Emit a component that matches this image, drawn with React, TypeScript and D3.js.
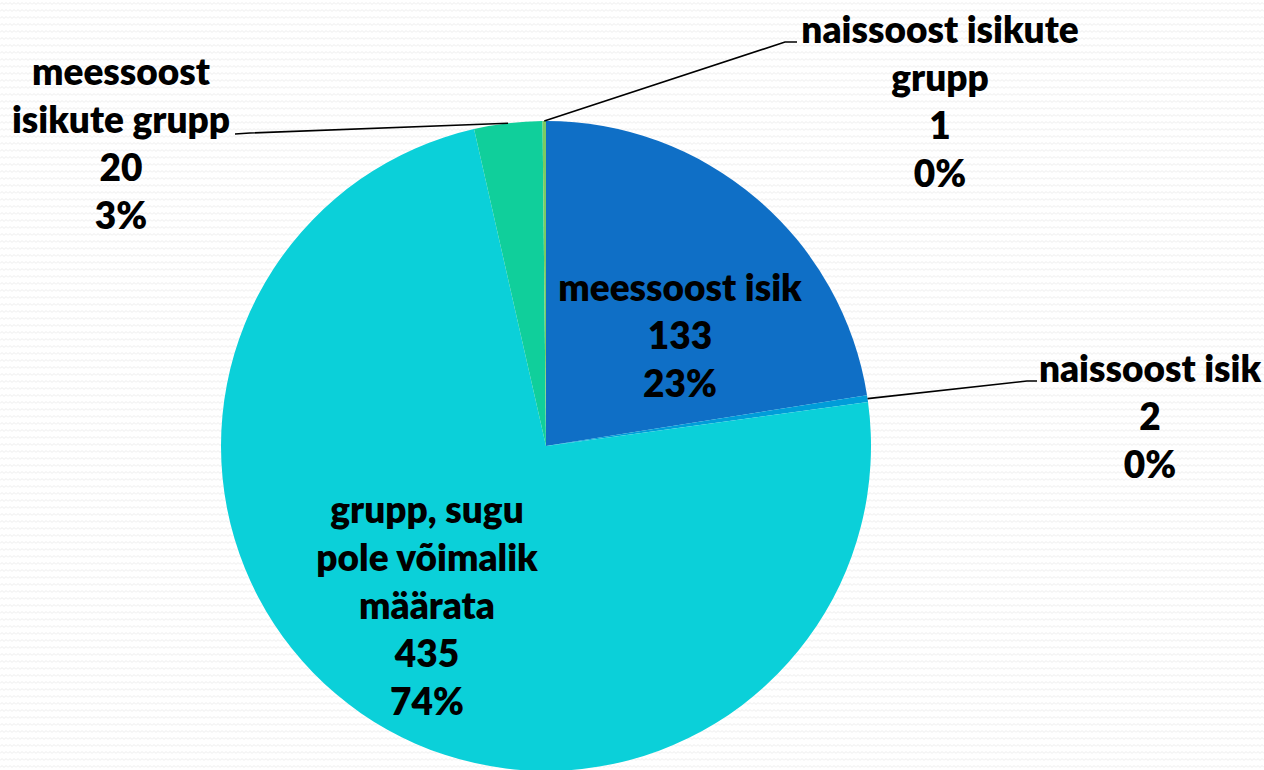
import React from "react";
import * as d3 from "d3";

const categories = [
  "meessoost isik",
  "naissoost isik",
  "grupp, sugu pole võimalik määrata",
  "meessoost isikute grupp",
  "naissoost isikute grupp",
];
const values = [133, 2, 435, 20, 1];
const colors = ["#0F6FC6", "#009DD9", "#0BD0D9", "#10CF9B", "#7CCA62"];
const labelLines = [
  ["meessoost isik"],
  ["naissoost isik"],
  ["grupp, sugu", "pole võimalik", "määrata"],
  ["meessoost", "isikute grupp"],
  ["naissoost isikute", "grupp"],
];

// layout (label anchor positions, first baseline)
const W = 1264;
const H = 770;
const CX = 546;
const CY = 446;
const R = 325;
const labelLayout = [
  { x: 680, y: 301, inside: true },
  { x: 1150, y: 382, elbow: [1027, 381], end: [1037, 381] },
  { x: 427, y: 523, inside: true },
  { x: 121, y: 85, elbow: [250, 133], end: [235, 134] },
  { x: 940, y: 43, elbow: [785, 42], end: [797, 42] },
];
const LINE = 48;

export default function App() {
  const total = d3.sum(values);
  const pie = d3
    .pie<number>()
    .sort(null)
    .value((d) => d)
    .startAngle(0)
    .endAngle(2 * Math.PI);
  const arcs = pie(values);
  const arc = d3.arc<d3.PieArcDatum<number>>().innerRadius(0).outerRadius(R);
  const fmtPct = (v: number) => `${Math.round((v / total) * 100)}%`;

  return (
    <svg
      width={W}
      height={H}
      style={{ position: "absolute", left: 0, top: 0 }}
      fontFamily="Lato, 'Open Sans', sans-serif"
    >
      <defs>
        <pattern id="zig" width="8" height="7" patternUnits="userSpaceOnUse">
          <polyline
            points="0,4.5 2,2.5 4,4.5 6,2.5 8,4.5"
            fill="none"
            stroke="#ececec"
            strokeWidth="1"
          />
        </pattern>
      </defs>
      <rect x={0} y={0} width={W} height={H} fill="#ffffff" />
      <rect x={0} y={0} width={W} height={H} fill="url(#zig)" />
      <g transform={`translate(${CX},${CY})`}>
        {arcs.map((a, i) => (
          <path key={categories[i]} d={arc(a) || ""} fill={colors[i]} />
        ))}
      </g>
      {arcs.map((a, i) => {
        const L = labelLayout[i];
        if (L.inside) return null;
        const mid = (a.startAngle + a.endAngle) / 2;
        const sx = CX + R * Math.sin(mid);
        const sy = CY - R * Math.cos(mid);
        return (
          <polyline
            key={"l" + i}
            points={`${sx},${sy} ${L.elbow![0]},${L.elbow![1]} ${L.end![0]},${L.end![1]}`}
            fill="none"
            stroke="#000"
            strokeWidth={1.6}
          />
        );
      })}
      {arcs.map((a, i) => {
        const L = labelLayout[i];
        const lines = [...labelLines[i], String(values[i]), fmtPct(values[i])];
        return (
          <text
            key={"t" + i}
            textAnchor="middle"
            fontWeight={800}
            fontSize={37}
            fill="#000"
          >
            {lines.map((ln, j) => (
              <tspan key={j} x={L.x} y={L.y + j * LINE}>
                {ln}
              </tspan>
            ))}
          </text>
        );
      })}
    </svg>
  );
}
